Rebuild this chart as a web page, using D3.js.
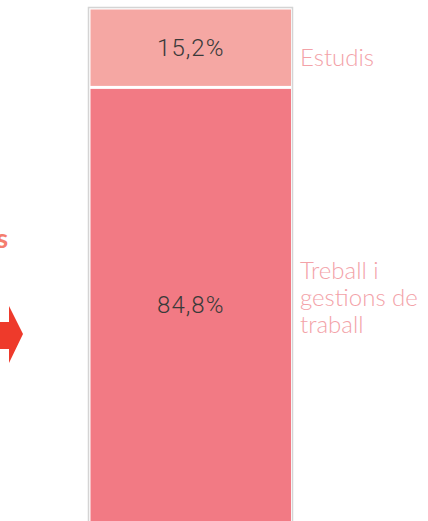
<!DOCTYPE html>
<html>
<head>
<meta charset="utf-8">
<script src="https://cdn.jsdelivr.net/npm/d3@7"></script>
<style>
  html, body { margin: 0; padding: 0; background: #fff; overflow: hidden; }
</style>
</head>
<body>
<script>
const width = 428;
const height = 521;

// data
const categories = ["Estudis", "Treball i gestions de treball"];
const labelLines = [["Estudis"], ["Treball i", "gestions de", "traball"]];
const values = [15.2, 84.8];
const colors = ["#f5a7a3", "#f27a84"];

const svg = d3.select("body").append("svg")
	.attr("width", width)
	.attr("height", height);

const y = d3.scaleLinear().domain([0, 100]).range([9.5, 522]);
const x0 = 90.5, barW = 200.5, gap = 1.5;
const lineH = 27;
const labelShift = [18, -26]; // first baseline offset from segment middle

// stack
let acc = 0;
const stacked = values.map(function (v, i) {
	const d = { key: categories[i], v: v, y0: acc, y1: acc + v, i: i };
	acc += v;
	return d;
});

// frame around the bar
svg.append("rect")
	.attr("x", 88.5).attr("y", 7.5)
	.attr("width", 204).attr("height", 540)
	.attr("fill", "none")
	.attr("stroke", "#d4d4d4")
	.attr("stroke-width", 1.5);

svg.selectAll("rect.seg")
	.data(stacked)
	.enter()
	.append("rect")
	.attr("class", "seg")
	.attr("x", x0)
	.attr("width", barW)
	.attr("y", function (d) { return y(d.y0) + (d.i > 0 ? gap : 0); })
	.attr("height", function (d) { return y(d.y1) - y(d.y0) - gap; })
	.attr("fill", function (d) { return colors[d.i]; });

// values inside
svg.selectAll("text.val")
	.data(stacked)
	.enter()
	.append("text")
	.attr("class", "val")
	.attr("x", x0 + barW / 2)
	.attr("y", function (d) { return (y(d.y0) + y(d.y1)) / 2 + 8; })
	.attr("text-anchor", "middle")
	.attr("font-family", "Roboto")
	.attr("font-weight", 300)
	.attr("font-size", 24)
	.attr("letter-spacing", 1)
	.attr("fill", "#3a3a3a")
	.text(function (d) { return d3.format(".1f")(d.v).replace(".", ",") + "%"; });

// category labels on the right
const lab = svg.selectAll("text.cat")
	.data(stacked)
	.enter()
	.append("text")
	.attr("class", "cat")
	.attr("font-family", "Lato")
	.attr("font-weight", 300)
	.attr("font-size", 24)
	.attr("fill", "#f3a2a8")
	.attr("x", 300)
	.attr("y", function (d) {
		return (y(d.y0) + y(d.y1)) / 2 + labelShift[d.i];
	});
lab.selectAll("tspan")
	.data(function (d) { return labelLines[d.i]; })
	.enter()
	.append("tspan")
	.attr("x", 300)
	.attr("dy", function (d, j) { return j === 0 ? 0 : lineH; })
	.text(function (d) { return d; });

// cut-off text and arrow at the left edge
svg.append("text")
	.attr("x", 8).attr("y", 248)
	.attr("text-anchor", "end")
	.attr("font-family", "Lato")
	.attr("font-weight", "bold")
	.attr("font-size", 27)
	.attr("fill", "#f47d6e")
	.text("s");

svg.append("path")
	.attr("d", "M0,322 L9,322 L9,306 L23,334 L9,363 L9,349 L0,349 Z")
	.attr("fill", "#ee3a2b");
</script>
</body>
</html>
